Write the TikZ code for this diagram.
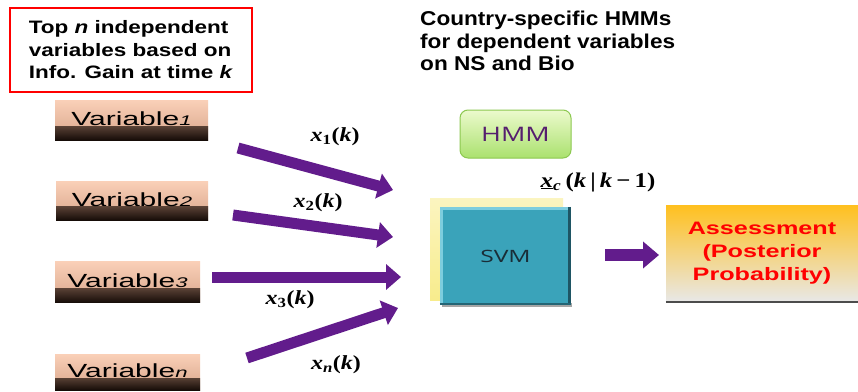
\documentclass[tikz,border=0pt]{standalone}
\usepackage{graphicx}
\usepackage{fontspec}
\setmainfont{Liberation Sans}
\newfontfamily\serifx{Liberation Serif}
\newfontfamily\opensans{Open Sans}
\usetikzlibrary{arrows.meta}
\newcommand{\hs}[2]{\scalebox{#1}[1]{#2}}
\definecolor{peachtop}{RGB}{250,208,184}
\definecolor{peachlow}{RGB}{215,165,138}
\definecolor{darkbrown}{RGB}{22,12,8}
\definecolor{arrowpurple}{RGB}{98,28,140}
\definecolor{tealbox}{RGB}{58,163,186}
\definecolor{tealdark}{RGB}{30,85,100}
\definecolor{teallight}{RGB}{125,205,222}
\definecolor{shadowyel}{RGB}{248,236,140}
\definecolor{greentop}{RGB}{236,250,205}
\definecolor{greenbot}{RGB}{170,225,110}
\definecolor{greenedge}{RGB}{140,200,80}
\definecolor{hmmtext}{RGB}{85,30,110}
\definecolor{orangetop}{RGB}{255,192,30}
\definecolor{greybot}{RGB}{232,232,232}
\definecolor{svmtext}{RGB}{25,45,55}
\tikzset{
  varbox/.style={shade, top color=peachtop, bottom color=peachlow, inner sep=0pt,
    font=\fontsize{19}{21}\selectfont,
    path picture={\shade[top color=peachlow, middle color=peachlow!55!darkbrown, bottom color=darkbrown]
      ([yshift=-6pt]path picture bounding box.west) rectangle (path picture bounding box.south east);}},
  fatarrow/.style={draw=arrowpurple, line width=11pt,
    -{Triangle[width=25pt,length=15pt]}},
  xlabel/.style={font=\serifx\bfseries\fontsize{20}{22}\selectfont, inner sep=0pt},
}
\newcommand{\varsub}[1]{{\fontsize{14}{14}\selectfont\itshape #1}}
\newcommand{\vartext}[1]{\raisebox{2.5pt}{\hs{1.58}{Variable\varsub{#1}}}}
\begin{document}
\begin{tikzpicture}[x=1pt,y=-1pt]
\useasboundingbox (0,0) rectangle (858,391);
\fill[white] (0,0) rectangle (858,391);

% top-left red box
\node (topn) [draw=red, line width=2pt, minimum width=242pt, minimum height=84pt,
  inner sep=0pt, align=left, font=\bfseries\fontsize{18}{22.5}\selectfont] at (131,50)
  {\hs{1.25}{Top \textit{n} independent}\\ \hs{1.25}{variables based on}\\ \hs{1.25}{Info. Gain at time \textit{k}}};

% header
\node (head) [anchor=north west, inner sep=0pt, align=left,
  font=\bfseries\fontsize{20}{22.5}\selectfont] at (420,11)
  {\hs{1.13}{Country-specific HMMs}\\ \hs{1.13}{for dependent variables}\\ \hs{1.13}{on NS and Bio}};

% variable boxes
\node (v1) [varbox, minimum width=153pt, minimum height=40pt] at (131.5,120) {\vartext{1}};
\node (v2) [varbox, minimum width=152pt, minimum height=39pt] at (132,200.5) {\vartext{2}};
\node (v3) [varbox, minimum width=145pt, minimum height=41pt] at (127.5,282) {\vartext{3}};
\node (vn) [varbox, minimum width=145pt, minimum height=36pt] at (127.5,372) {\vartext{n}};

% arrow endpoints
\coordinate (a1s) at (238,148); \coordinate (a1e) at (393,190);
\coordinate (a2s) at (233,215); \coordinate (a2e) at (393,237);
\coordinate (a3s) at (212,277); \coordinate (a3e) at (401,277);
\coordinate (a4s) at (247,358); \coordinate (a4e) at (398,308);
\draw[fatarrow] (a1s) -- (a1e);
\draw[fatarrow] (a2s) -- (a2e);
\draw[fatarrow] (a3s) -- (a3e);
\draw[fatarrow] (a4s) -- (a4e);

% arrow labels
\node (l1) [xlabel] at (335,137) {\hs{1.2}{\textit{x}\textsubscript{1}(\textit{k})}};
\node (l2) [xlabel] at (318,203) {\hs{1.2}{\textit{x}\textsubscript{2}(\textit{k})}};
\node (l3) [xlabel] at (290,300) {\hs{1.2}{\textit{x}\textsubscript{3}(\textit{k})}};
\node (l4) [xlabel] at (336,365) {\hs{1.2}{\textit{x}\textsubscript{\textit{n}}(\textit{k})}};

% HMM box
\node (hmm) [rounded corners=8pt, draw=greenedge, line width=1pt, shade, top color=greentop,
  bottom color=greenbot, minimum width=111pt, minimum height=48pt, text=hmmtext,
  font=\opensans\fontsize{20}{22}\selectfont] at (515.5,134) {\hs{1.35}{HMM}};

% x_c label
\node (xc) [xlabel, font=\serifx\bfseries\fontsize{21}{23}\selectfont] at (598,182)
  {\hs{1.18}{\underline{\textit{x}}\textsubscript{\textit{c}}\,(\textit{k}\,|\,\textit{k}\,\textminus\,1)}};

% SVM box with yellow shadow
\node (svmshadow) [shade, top color=shadowyel!55!white, bottom color=shadowyel,
  minimum width=133pt, minimum height=102pt, inner sep=0pt] at (496.5,249) {};
\fill[black!35] (442,303) rectangle (572,307);
\node (svm) [fill=tealbox, minimum width=131pt,
  minimum height=98pt, inner sep=0pt, text=svmtext,
  font=\opensans\fontsize{17}{19}\selectfont] at (505.5,256) {\hs{1.45}{SVM}};
\draw[tealdark, line width=3pt]
  ([shift={(-1.5,0)}]svm.north east) -- ([shift={(-1.5,0)}]svm.south east);
\draw[tealdark!80!tealbox, line width=2pt]
  ([shift={(0,-1)}]svm.south west) -- ([shift={(0,-1)}]svm.south east);
\draw[teallight, line width=2.5pt]
  ([shift={(1.5,-2)}]svm.south west) -- ([shift={(1.5,1.5)}]svm.north west) -- ([shift={(-3,1.5)}]svm.north east);

% small arrow
\coordinate (sas) at (605,255);
\coordinate (sae) at (659,255);
\draw[fatarrow, line width=12pt, -{Triangle[width=26pt,length=16pt]}] (sas) -- (sae);

% assessment box
\node (assess) [shade, top color=orangetop, middle color=orangetop!35!greybot,
  bottom color=greybot, minimum width=192pt, minimum height=97pt, inner sep=0pt,
  align=center, text=red, font=\bfseries\fontsize{18}{23}\selectfont] at (762,253.5)
  {\hs{1.4}{Assessment}\\ \hs{1.4}{(Posterior}\\ \hs{1.4}{Probability)}};
\draw[black!70, line width=1.5pt] (assess.south west) -- (assess.south east);
\end{tikzpicture}
\end{document}
